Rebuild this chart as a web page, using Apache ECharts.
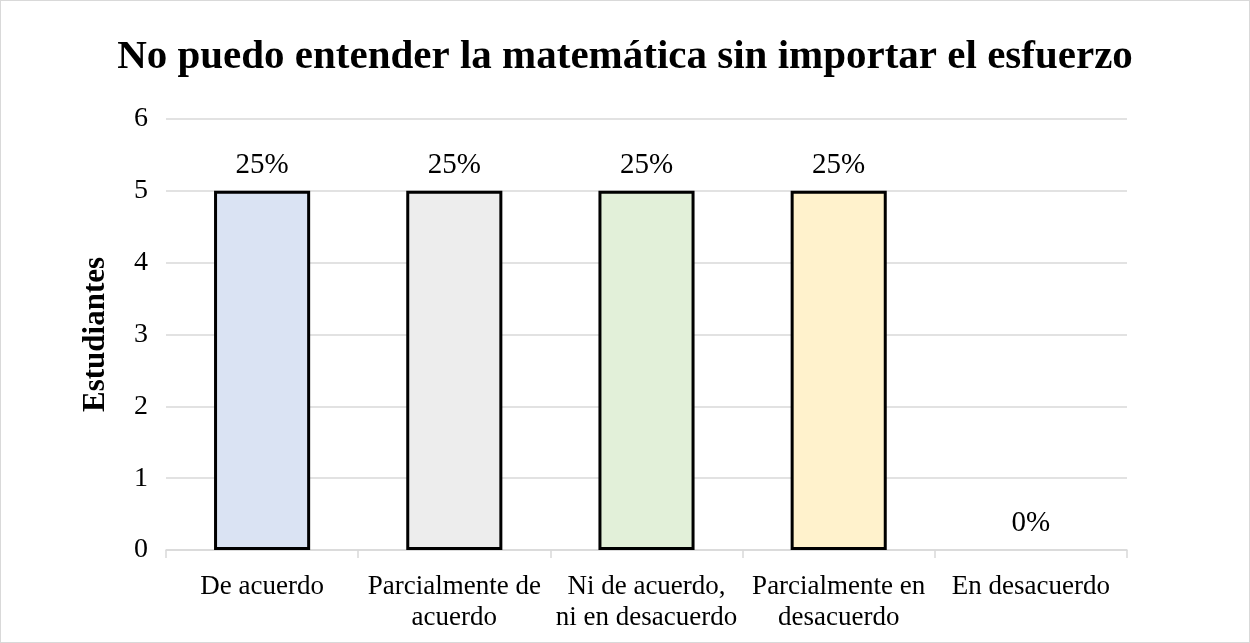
<!DOCTYPE html>
<html>
<head>
<meta charset="utf-8">
<script src="https://cdn.jsdelivr.net/npm/echarts@6/dist/echarts.min.js"></script>
<style>
  html, body { margin: 0; padding: 0; background: #fff; }
  #chart { width: 1248px; height: 641px; border: 1px solid #D9D9D9; }
</style>
</head>
<body>
<div id="chart"></div>
<script>
// datos del gráfico
const categories = ['De acuerdo', 'Parcialmente de\nacuerdo', 'Ni de acuerdo,\nni en desacuerdo', 'Parcialmente en\ndesacuerdo', 'En desacuerdo']
const students = [5, 5, 5, 5, 0]
const percentLabels = ['25%', '25%', '25%', '25%', '0%']
const barColors = ['#DAE3F3', '#EDEDED', '#E2F0D9', '#FFF2CC', '#FFFFFF']

const serif = '"Liberation Serif", "DejaVu Serif", serif'
const myChart = echarts.init(document.getElementById('chart'))
myChart.setOption({
  animation: false,
  title: {
    text: 'No puedo entender la matemática sin importar el esfuerzo',
    left: 'center',
    top: 31,
    textStyle: {
      fontFamily: serif,
      fontWeight: 'bold',
      fontSize: 41,
      color: '#000'
    }
  },
  grid: {
    left: 165,
    right: 122,
    top: 118,
    bottom: 92
  },
  xAxis: {
    type: 'category',
    data: categories,
    axisLine: { lineStyle: { color: '#D9D9D9', width: 1.5 } },
    axisTick: { show: true, length: 8, lineStyle: { color: '#D9D9D9', width: 1.5 } },
    axisLabel: {
      fontFamily: serif,
      fontSize: 27,
      color: '#000',
      lineHeight: 31,
      margin: 21,
      interval: 0
    }
  },
  yAxis: {
    type: 'value',
    min: 0,
    max: 6,
    interval: 1,
    name: 'Estudiantes',
    nameLocation: 'middle',
    nameGap: 55,
    nameTextStyle: {
      fontFamily: serif,
      fontWeight: 'bold',
      fontSize: 31,
      color: '#000'
    },
    axisLine: { show: false },
    axisTick: { show: false },
    splitLine: { lineStyle: { color: '#D9D9D9', width: 1.5 } },
    axisLabel: {
      fontFamily: serif,
      fontSize: 28,
      color: '#000',
      margin: 18
    }
  },
  series: [
    {
      type: 'bar',
      barWidth: '50%',
      data: students.map((v, i) => ({
        value: v,
        itemStyle: {
          color: barColors[i],
          borderColor: v > 0 ? '#000' : 'transparent',
          borderWidth: 3
        }
      })),
      label: {
        show: true,
        position: 'top',
        distance: 11,
        formatter: (p) => percentLabels[p.dataIndex],
        fontFamily: serif,
        fontSize: 29,
        color: '#000'
      }
    }
  ]
})
</script>
</body>
</html>
